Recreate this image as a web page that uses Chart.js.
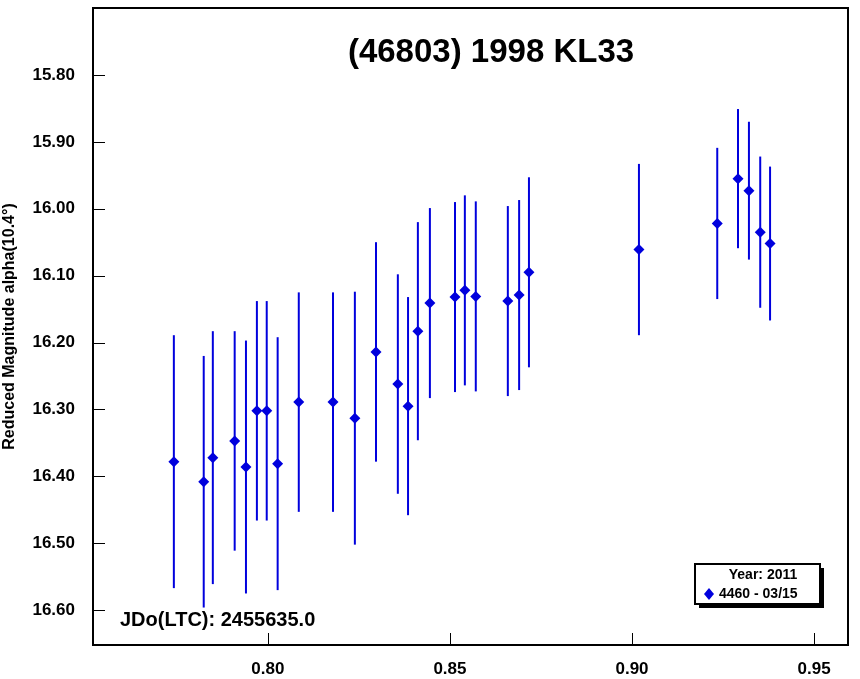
<!DOCTYPE html>
<html>
<head>
<meta charset="utf-8">
<script src="https://cdn.jsdelivr.net/npm/chart.js@4"></script>
<style>
  body { margin: 0; background: #fff; }
  #wrap { width: 860px; height: 679px; }
</style>
</head>
<body>
<div id="wrap"><canvas id="c" width="860" height="679"></canvas></div>
<script>
// Phase (x), reduced magnitude (y) and error half-widths
const phases = [0.7742, 0.7824, 0.7849, 0.7909, 0.7940, 0.7970, 0.7997, 0.8027, 0.8085, 0.8179,
  0.8239, 0.8297, 0.8357, 0.8385, 0.8412, 0.8445, 0.8514, 0.8541, 0.8571, 0.8659,
  0.8690, 0.8717, 0.9019, 0.9234, 0.9291, 0.9321, 0.9352, 0.9379];
const mags = [16.378, 16.408, 16.372, 16.347, 16.386, 16.302, 16.302, 16.381, 16.289, 16.289,
  16.313, 16.214, 16.262, 16.295, 16.183, 16.141, 16.132, 16.122, 16.131, 16.138,
  16.129, 16.095, 16.061, 16.022, 15.955, 15.973, 16.035, 16.052];
const errs = [0.189, 0.188, 0.189, 0.164, 0.189, 0.164, 0.164, 0.189, 0.164, 0.164,
  0.189, 0.164, 0.164, 0.163, 0.163, 0.142, 0.142, 0.142, 0.142, 0.142,
  0.142, 0.142, 0.128, 0.113, 0.104, 0.103, 0.113, 0.115];
const xTicks = [0.80, 0.85, 0.90, 0.95];
const yTicks = [15.80, 15.90, 16.00, 16.10, 16.20, 16.30, 16.40, 16.50, 16.60];

const BLUE = '#0000dd';
const FONT = '"Liberation Sans", Arial, sans-serif';

// error bars, inward tick marks and the text boxes inside the plot
const extras = {
  id: 'extras',
  beforeDatasetsDraw(chart) {
    const { ctx, scales: { x, y } } = chart;
    ctx.save();
    ctx.strokeStyle = BLUE;
    ctx.lineWidth = 2;
    phases.forEach((p, i) => {
      const px = x.getPixelForValue(p);
      ctx.beginPath();
      ctx.moveTo(px, y.getPixelForValue(mags[i] - errs[i]));
      ctx.lineTo(px, y.getPixelForValue(mags[i] + errs[i]));
      ctx.stroke();
    });
    ctx.restore();
  },
  afterDraw(chart) {
    const { ctx, chartArea: a, scales: { x, y } } = chart;
    ctx.save();
    ctx.strokeStyle = '#000';
    ctx.lineWidth = 1;
    xTicks.forEach(t => {
      const px = Math.round(x.getPixelForValue(t)) + 0.5;
      ctx.beginPath(); ctx.moveTo(px, a.bottom); ctx.lineTo(px, a.bottom - 12); ctx.stroke();
    });
    yTicks.forEach(t => {
      const py = Math.round(y.getPixelForValue(t)) + 0.5;
      ctx.beginPath(); ctx.moveTo(a.left, py); ctx.lineTo(a.left + 12, py); ctx.stroke();
    });
    ctx.lineWidth = 2;
    ctx.strokeRect(a.left, a.top, a.right - a.left, a.bottom - a.top);

    ctx.fillStyle = '#000';
    ctx.font = 'bold 33px ' + FONT;
    ctx.textAlign = 'center';
    ctx.textBaseline = 'middle';
    ctx.fillText('(46803) 1998 KL33', 491, 53);

    ctx.font = 'bold 20px ' + FONT;
    ctx.textAlign = 'left';
    ctx.fillText('JDo(LTC): 2455635.0', 120, 620);

    // legend box with shadow
    ctx.fillStyle = '#000';
    ctx.fillRect(699, 568, 125, 40);
    ctx.fillStyle = '#fff';
    ctx.fillRect(695, 564, 125, 40);
    ctx.strokeRect(695, 564, 125, 40);
    ctx.fillStyle = '#000';
    ctx.font = 'bold 14px ' + FONT;
    ctx.textAlign = 'center';
    ctx.fillText('Year: 2011', 763, 575);
    ctx.textAlign = 'left';
    ctx.fillText('4460 - 03/15', 719, 594);
    ctx.fillStyle = BLUE;
    ctx.beginPath();
    ctx.moveTo(709, 588); ctx.lineTo(714, 594); ctx.lineTo(709, 600); ctx.lineTo(704, 594);
    ctx.closePath(); ctx.fill();
    ctx.restore();
  }
};

new Chart(document.getElementById('c'), {
  type: 'scatter',
  data: {
    datasets: [{
      data: phases.map((p, i) => ({ x: p, y: mags[i] })),
      pointStyle: 'rectRot',
      pointRadius: 5.5,
      backgroundColor: BLUE,
      borderColor: BLUE,
      borderWidth: 0
    }]
  },
  options: {
    responsive: false,
    animation: false,
    layout: { padding: { top: 8, right: 12, left: 0, bottom: 0 } },
    plugins: { legend: { display: false }, tooltip: { enabled: false } },
    scales: {
      x: {
        type: 'linear', min: 0.752, max: 0.9593,
        afterBuildTicks: s => { s.ticks = xTicks.map(v => ({ value: v })); },
        afterFit: s => { s.height = 34; s.paddingLeft = 0; s.paddingRight = 0; },
        grid: { display: false },
        border: { display: false },
        ticks: { color: '#000', font: { family: FONT, size: 17, weight: 'bold' }, padding: 6,
          callback: v => v.toFixed(2) }
      },
      y: {
        type: 'linear', min: 15.70, max: 16.652, reverse: true,
        afterBuildTicks: s => { s.ticks = yTicks.map(v => ({ value: v })); },
        afterFit: s => { s.width = 93; s.paddingTop = 0; s.paddingBottom = 0; },
        grid: { display: false },
        border: { display: false },
        title: { display: true, text: 'Reduced Magnitude alpha(10.4°)', color: '#000',
          font: { family: FONT, size: 16, weight: 'bold' }, padding: { top: 0, bottom: 0 } },
        ticks: { color: '#000', font: { family: FONT, size: 17, weight: 'bold' }, padding: 10,
          callback: v => v.toFixed(2) }
      }
    }
  },
  plugins: [extras]
});
</script>
</body>
</html>
